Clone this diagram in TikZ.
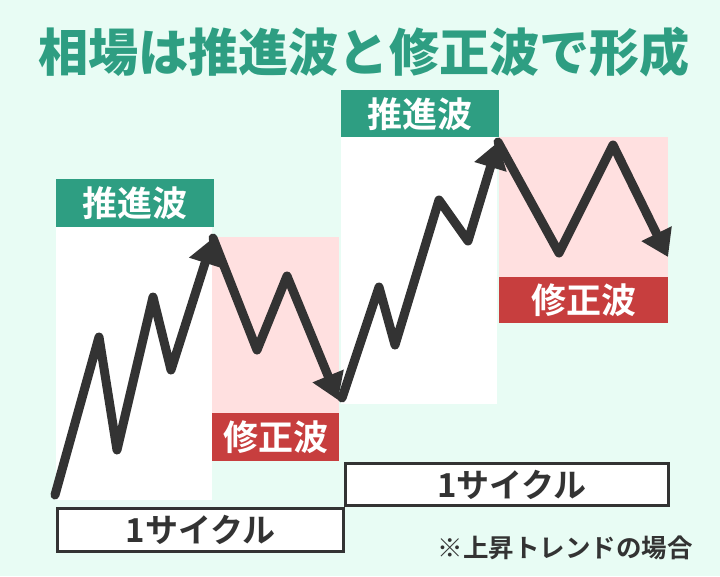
\documentclass[tikz,border=0pt]{standalone}
\usepackage{fontspec}
\newfontfamily\jpb{Noto Sans CJK JP Bold}
\newfontfamily\jpblack{Noto Sans CJK JP Black}
\usetikzlibrary{arrows.meta}
\definecolor{bg}{HTML}{E8FCF4}
\definecolor{tgreen}{HTML}{2E9E82}
\definecolor{tred}{HTML}{C73E3E}
\definecolor{pink}{HTML}{FFE0E0}
\definecolor{ink}{HTML}{333333}
\begin{document}
\begin{tikzpicture}[x=1pt,y=-1pt,
  zig/.style={line width=9pt, draw=ink, line join=round, line cap=round,
              -{Triangle[length=26pt,width=32pt]}},
  labbox/.style={anchor=north west, inner sep=0pt, text=white,
                 font=\jpb\fontsize{35pt}{35pt}\selectfont},
  cycbox/.style={anchor=north west, inner sep=0pt, fill=white, draw=ink,
                 line width=3pt, text=ink, font=\jpb\fontsize{33pt}{33pt}\selectfont},
  area/.style={anchor=north west, inner sep=0pt, draw=none}
]
\useasboundingbox (0,0) rectangle (720,576);
\fill[bg] (0,0) rectangle (720,576);

% title
\node[text=tgreen, inner sep=0pt] (title) at (364,52)
  {\resizebox{652pt}{\height}{\jpblack\fontsize{51pt}{51pt}\selectfont 相場は推進波と修正波で形成}};

% areas
\node[area, fill=white, minimum width=156pt, minimum height=273pt] (w1) at (56,227) {};
\node[area, fill=pink, minimum width=127pt, minimum height=176pt] (p1) at (212,237) {};
\node[area, fill=white, minimum width=156pt, minimum height=267pt] (w2) at (341,137) {};
\node[area, fill=pink, minimum width=169pt, minimum height=140pt] (p2) at (499,137) {};

% labels
\node[labbox, fill=tgreen, minimum width=158pt, minimum height=48pt] (g1) at (56,179) {推進波};
\node[labbox, fill=tred, minimum width=127pt, minimum height=48pt] (r1) at (212,413) {修正波};
\node[labbox, fill=tgreen, minimum width=158pt, minimum height=47pt] (g2) at (341,90) {推進波};
\node[labbox, fill=tred, minimum width=169pt, minimum height=46pt] (r2) at (499,277) {修正波};

% cycle boxes
\node[cycbox, minimum width=286pt, minimum height=43pt] (c1) at (56,507) {1サイクル};
\node[cycbox, minimum width=323pt, minimum height=42pt] (c2) at (344,462) {\hspace{10pt}1サイクル};

% note
\node[text=ink, font=\jpb\fontsize{25.5pt}{25.5pt}\selectfont] (note) at (565,548) {※上昇トレンドの場合};

% zigzag points
\coordinate (a0) at (55,495);
\coordinate (a1) at (99,337);
\coordinate (a2) at (117,450);
\coordinate (a3) at (153,297);
\coordinate (a4) at (171,370);
\coordinate (a5) at (213,238);
\coordinate (b1) at (257,350);
\coordinate (b2) at (287,276);
\coordinate (b3) at (338,400);
\coordinate (d0) at (342,398);
\coordinate (d1) at (379,287);
\coordinate (d2) at (395,345);
\coordinate (d3) at (439,200);
\coordinate (d4) at (468,241);
\coordinate (d5) at (498,142);
\coordinate (e1) at (559,253);
\coordinate (e2) at (613,145);
\coordinate (e3) at (668,257);

\draw[zig] (a0) -- (a1) -- (a2) -- (a3) -- (a4) -- (a5);
\draw[zig] (a5) -- (b1) -- (b2) -- (b3);
\draw[zig] (d0) -- (d1) -- (d2) -- (d3) -- (d4) -- (d5);
\draw[zig] (d5) -- (e1) -- (e2) -- (e3);
\end{tikzpicture}
\end{document}
